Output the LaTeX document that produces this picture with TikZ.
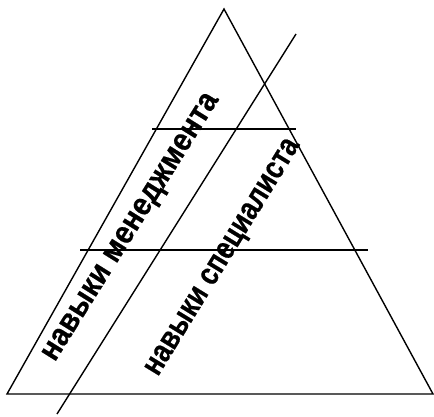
\documentclass[tikz,border=0pt]{standalone}
\usepackage{fontspec}
\setmainfont{Liberation Sans}
\newfontfamily\lblfont{Liberation Sans Bold}[FakeBold=0.6]
\begin{document}
\begin{tikzpicture}[x=1pt,y=1pt,
  edge/.style={line width=1.4pt, black},
  lbl/.style={font=\lblfont\fontsize{32}{32}\selectfont, inner sep=0pt, anchor=base}]
\useasboundingbox (0,0) rectangle (434,416);
\coordinate (apex) at (224,407);
\coordinate (bl) at (7,22);
\coordinate (br) at (433,22);
\coordinate (u1) at (152,287);
\coordinate (u2) at (296,287);
\coordinate (l1) at (80,166);
\coordinate (l2) at (368,166);
\coordinate (dtop) at (296,382);
\coordinate (dbot) at (57,2);
\draw[edge, line join=miter] (bl) -- (apex) -- (br) -- cycle;
\draw[edge] (u1) -- (u2);
\draw[edge] (l1) -- (l2);
\draw[edge] (dtop) -- (dbot);
\node[lbl, rotate=58, xscale=0.9] (mgmt) at (137,185) {навыки менеджмента};
\node[lbl, rotate=58.5, xscale=0.82] (spec) at (229,155) {навыки специалиста};
\end{tikzpicture}
\end{document}
